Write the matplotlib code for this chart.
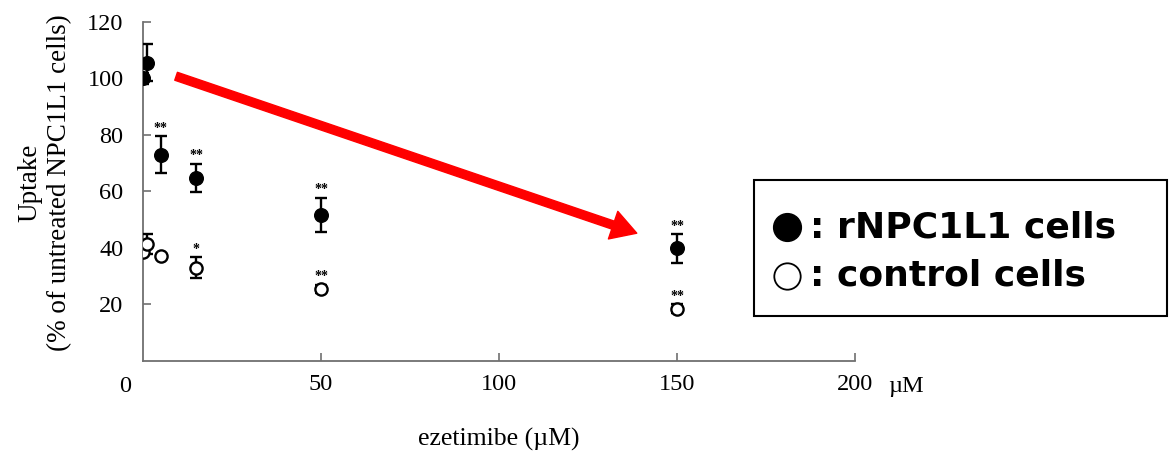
import matplotlib
matplotlib.use("Agg")
import matplotlib.pyplot as plt
from matplotlib.lines import Line2D
from matplotlib.patches import Rectangle

# Ezetimibe dose (µM) and uptake (% of untreated NPC1L1 cells)
dose = [0, 1, 5, 15, 50, 150]
npc_uptake = [100, 105.5, 73, 64.8, 51.8, 39.8]
npc_err = [2, 6.5, 6.5, 5, 6, 5]
ctrl_uptake = [38.5, 41.5, 37, 33, 25.5, 18.5]
ctrl_err = [1, 3.5, 0, 3.7, 1.5, 1.5]

# Significance marks (dose, label) for each series
npc_marks = {5: "**", 15: "**", 50: "**", 150: "**"}
ctrl_marks = {15: "*", 50: "**", 150: "**"}

x_ticks = [50, 100, 150, 200]
y_ticks = [20, 40, 60, 80, 100, 120]

key_labels = [": rNPC1L1 cells", ": control cells"]

serif = "Liberation Serif"
axis_grey = "#707070"
W, H = 1169, 453

fig = plt.figure(figsize=(W / 100, H / 100), dpi=100)
ax = fig.add_axes([143 / W, 1 - 361 / H, (855 - 143) / W, (361 - 21.7) / H])

ax.errorbar(dose, npc_uptake, yerr=npc_err, fmt="o", color="black",
            markersize=9.8, elinewidth=1.7, capsize=4.3, capthick=1.7, zorder=3)
ax.errorbar(dose, ctrl_uptake, yerr=ctrl_err, fmt="o", color="black",
            markerfacecolor="white", markeredgecolor="black", markeredgewidth=1.7,
            markersize=8.8, elinewidth=1.7, capsize=4.3, capthick=1.7, zorder=3)

for d, lab in npc_marks.items():
    i = dose.index(d)
    ax.annotate(lab, xy=(d, npc_uptake[i] + npc_err[i]), xytext=(0, 1),
                textcoords="offset points", ha="center", va="bottom",
                fontsize=10, fontweight="bold", family=serif)
for d, lab in ctrl_marks.items():
    i = dose.index(d)
    ax.annotate(lab, xy=(d, ctrl_uptake[i] + ctrl_err[i]), xytext=(0, 1),
                textcoords="offset points", ha="center", va="bottom",
                fontsize=10, fontweight="bold", family=serif)

ax.set_xlim(0, 200)
ax.set_ylim(0, 120)
ax.set_xticks(x_ticks)
ax.set_xticklabels([str(t) for t in x_ticks])
ax.set_yticks(y_ticks)
ax.set_yticklabels([str(t) for t in y_ticks])

for side in ("top", "right"):
    ax.spines[side].set_visible(False)
for side in ("left", "bottom"):
    ax.spines[side].set_color(axis_grey)
    ax.spines[side].set_linewidth(1.3)

ax.tick_params(direction="in", length=6, width=1.2, color=axis_grey,
               labelsize=17.5, labelfontfamily=serif)
ax.tick_params(axis="y", pad=14)
ax.tick_params(axis="x", pad=9)

# Origin label and unit after the last tick
ax.annotate("0", xy=(0, 0), xytext=(-13, -11), textcoords="offset points",
            ha="center", va="top", fontsize=17.5, family=serif)
ax.annotate("µM", xy=(200, 0), xytext=(24, -11), textcoords="offset points",
            ha="left", va="top", fontsize=17.5, family=serif)

ax.set_xlabel("ezetimibe (µM)", fontsize=18.5, family=serif, labelpad=24)
ax.set_ylabel("Uptake\n(% of untreated NPC1L1 cells)", fontsize=19.5, family=serif,
              linespacing=1.25)
ax.yaxis.set_label_coords(-0.1, 0.525)

# Red trend arrow
ax.annotate("", xy=(138.7, 45.2), xytext=(9.3, 100.7),
            arrowprops=dict(arrowstyle="simple,head_width=1.4,head_length=1.2,tail_width=0.4",
                            mutation_scale=15, color="red", shrinkA=0, shrinkB=0),
            annotation_clip=False, zorder=4)

# Key box with symbol entries
fig.patches.append(Rectangle((754 / W, 1 - 316 / H), (1167 - 754) / W, (316 - 180) / H,
                             transform=fig.transFigure, facecolor="white",
                             edgecolor="black", linewidth=1.5, zorder=1))
key_styles = [dict(markerfacecolor="black", markeredgecolor="black", markersize=20),
              dict(markerfacecolor="white", markeredgecolor="black",
                   markeredgewidth=1.3, markersize=19)]
key_marker_y = [226.5, 275.5]
key_baseline_y = [237, 286]
for lab, style, my, by in zip(key_labels, key_styles, key_marker_y, key_baseline_y):
    fig.add_artist(Line2D([787 / W], [1 - my / H], transform=fig.transFigure,
                          marker="o", linestyle="none", zorder=3, **style))
    fig.text(810 / W, 1 - by / H, lab, ha="left", va="baseline",
             family="DejaVu Sans", fontweight="bold", fontsize=26, zorder=3)

fig.savefig("out.png", dpi=100)
